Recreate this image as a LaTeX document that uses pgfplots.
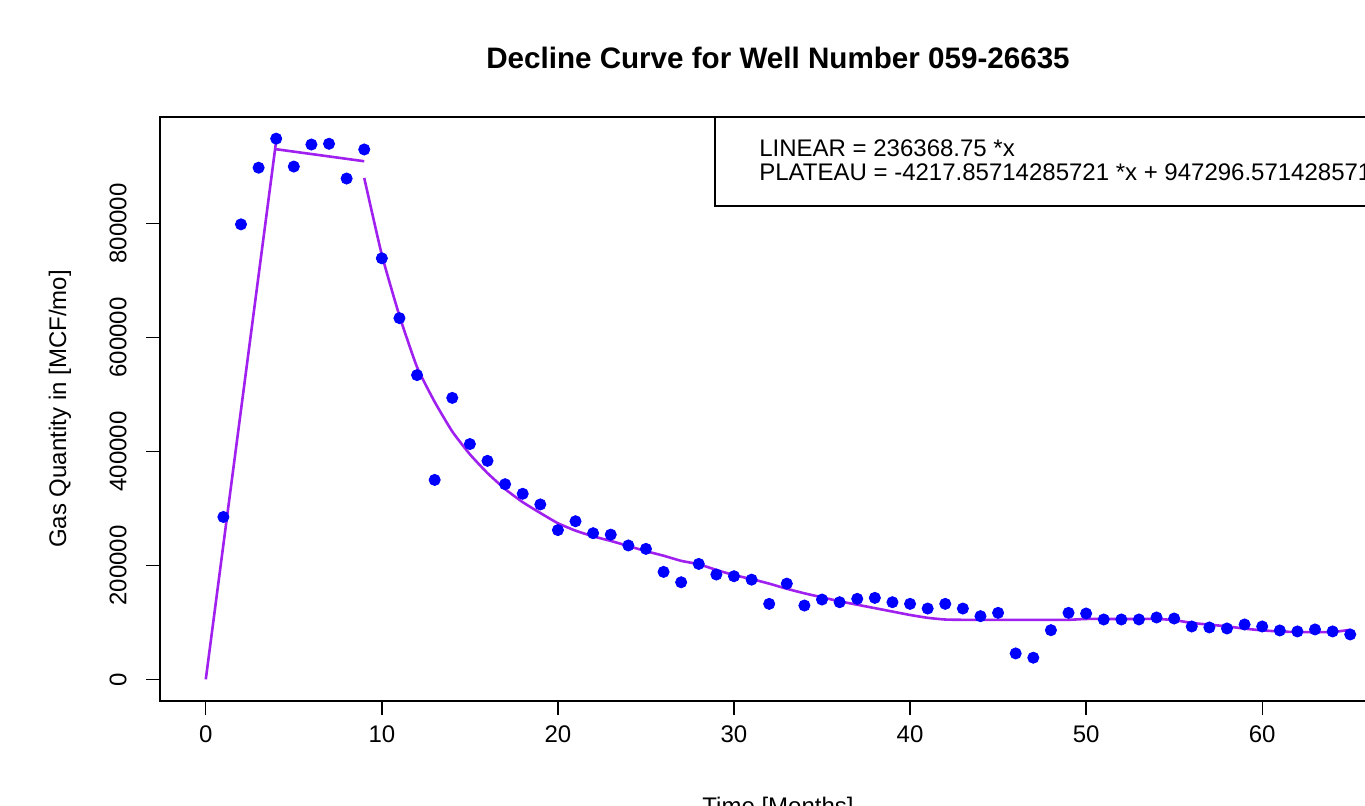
\documentclass[border=0pt]{standalone}
\usepackage{pgfplots}
\pgfplotsset{compat=1.18}
\usepackage{fontspec}
\setmainfont{Liberation Sans}
\definecolor{rpurple}{HTML}{A020F0}
\begin{document}
\begin{tikzpicture}[font=\fontsize{12}{14}\selectfont]
\path[use as bounding box] (-80pt,-52pt) rectangle (602.5pt,350.5pt);
\begin{axis}[
  at={(0pt,0pt)}, anchor=south west,
  scale only axis, width=618pt, height=292pt,
  xmin=-2.6, xmax=67.6, ymin=-38000, ymax=987000,
  axis line style={line width=0.7pt, black},
  tick style={line width=0.7pt, black},
  tick align=outside, major tick length=7pt,
  tick pos=left,
  xtick={0,10,20,30,40,50,60},
  ytick={0,200000,400000,600000,800000},
  scaled ticks=false,
  /pgf/number format/fixed,
  /pgf/number format/1000 sep={},
  /pgf/number format/assume math mode=true,
  xticklabel style={anchor=north, inner sep=0pt, yshift=-5pt},
  yticklabel style={rotate=90, anchor=south, inner sep=0pt},
  yticklabel shift=9.5pt,
  title={\bfseries\fontsize{14.8}{17}\selectfont Decline Curve for Well Number 059-26635},
  title style={at={(rel axis cs:0.5,1)}, anchor=center, yshift=23.5pt},
  xlabel={Time [Months]},
  xlabel style={at={(rel axis cs:0.5,0)}, anchor=north, yshift=-48pt, inner sep=0pt},
  ylabel={Gas Quantity in [MCF/mo]},
  ylabel style={at={(rel axis cs:-0.0809,0.5)}, anchor=center, inner sep=0pt},
]
\addplot[only marks, mark=*, mark size=2.8pt, color=blue] table {
t q
1 285000
2 798600
3 898000
4 949000
5 900000
6 938700
7 940000
8 879000
9 930000
10 739000
11 634000
12 534000
13 350000
14 494000
15 413000
16 383500
17 342500
18 325700
19 307000
20 262000
21 277500
22 256500
23 254000
24 235000
25 229000
26 188600
27 170400
28 202600
29 184000
30 181000
31 175000
32 132500
33 168000
34 129600
35 140100
36 135400
37 141300
38 143000
39 135400
40 132500
41 124300
42 132500
43 124300
44 110900
45 116700
46 45500
47 38000
48 86300
49 116700
50 115600
51 105100
52 105100
53 105100
54 108600
55 106800
56 92800
57 91100
58 89300
59 96300
60 92800
61 85800
62 84100
63 87600
64 84100
65 78800
};
\addplot[rpurple, line width=1.3pt, no marks] coordinates {(0,0) (4,945475)};
\addplot[rpurple, line width=1.3pt, no marks] coordinates {(4,930425) (9,909336)};
\addplot[rpurple, line width=1.3pt, no marks, smooth, tension=0.3] coordinates {
(9,880000) (10,745000) (11,638000) (12,548000) (13,487000) (14,435000)
(15,395000) (16,362000) (17,334000) (18,311000) (19,292000) (20,274000)
(21,261000) (22,251000) (23,243000) (24,234000) (25,225000) (26,217000)
(27,208000) (28,202000) (29,192000) (30,183000) (31,176000) (32,168000)
(33,159000) (34,151000) (35,144000) (36,137000) (37,131000) (38,125000)
(39,119000) (40,113000) (41,108000) (42,105000) (43,104500) (44,104500)
(45,104500) (46,104500) (47,104500) (48,104500) (49,104500) (50,106000)
(51,106000) (52,106000) (53,106000) (54,106000) (55,104000) (56,99000)
(57,96000) (58,93000) (59,89000) (60,86000) (61,84000) (62,83000)
(63,83000) (64,83000) (65,87000)
};
\draw[line width=0.7pt, black] (rel axis cs:0.449,0.8476) rectangle (rel axis cs:1,1);
\node[anchor=west, inner sep=0pt] at (rel axis cs:0.4846,0.9469) {LINEAR = 236368.75 *x};
\node[anchor=west, inner sep=0pt] at (rel axis cs:0.4846,0.9058) {PLATEAU = -4217.85714285721 *x + 947296.571428571};
\end{axis}
\end{tikzpicture}
\end{document}
